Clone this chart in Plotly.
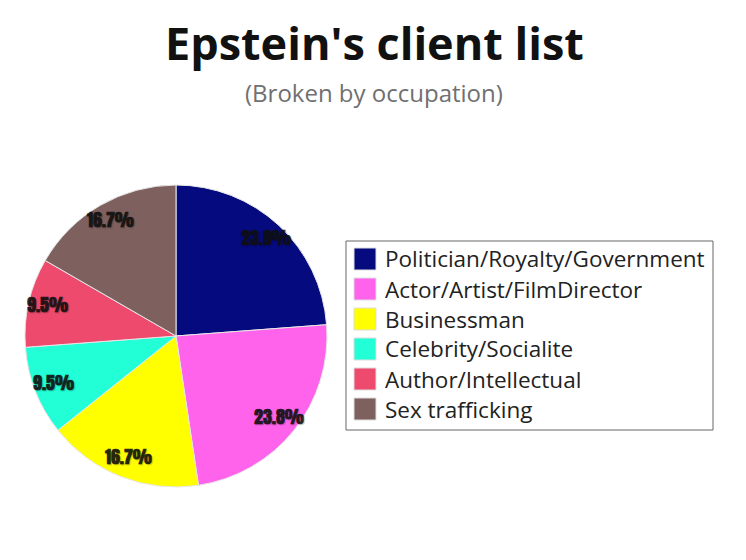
import math
import plotly.graph_objects as go

categories = ["Politician/Royalty/Government", "Actor/Artist/FilmDirector", "Businessman",
              "Celebrity/Socialite", "Author/Intellectual", "Sex trafficking"]
counts = [10, 10, 7, 4, 4, 7]
colors = ["#050a7e", "#ff63ec", "#ffff00", "#22ffd6", "#ee4a6e", "#7e615f"]

W, H = 746, 560
OFF = 8  # page body margin
CX, CY, R = 176 - OFF, 336 - OFF, 151  # pie centre / radius in px
dom = dict(x=[(CX - R) / W, (CX + R) / W], y=[1 - (CY + R) / H, 1 - (CY - R) / H])

fig = go.Figure()
fig.add_trace(go.Pie(
    labels=categories, values=counts, sort=False, direction="clockwise", rotation=0,
    marker=dict(colors=colors, line=dict(color="#e6e6e6", width=1)),
    textinfo="none", domain=dom, showlegend=False, hoverinfo="label+percent",
))

annotations = []
# percentage labels placed near the rim at each slice's mid-angle (derived from the data)
total = sum(counts)
cum = 0
for v in counts:
    mid = (cum + v / 2) / total * 2 * math.pi
    cum += v
    px = CX + 0.875 * R * math.sin(mid)
    py = CY - 0.875 * R * math.cos(mid) - 2
    annotations.append(dict(text=f"{v / total * 100:.1f}%", xref="paper", yref="paper",
                            x=px / W, y=1 - py / H, xanchor="center", yanchor="middle",
                            showarrow=False,
                            font=dict(family="Anton", size=18, color="rgba(15,15,15,0.88)",
                                      weight="bold", shadow="1px 1px 1px rgba(0,0,0,0.25)")))

# custom legend
shapes = [dict(type="rect", xref="paper", yref="paper", x0=(346 - OFF) / W, x1=(713 - OFF) / W,
               y0=1 - (430 - OFF) / H, y1=1 - (241 - OFF) / H, line=dict(color="#666666", width=1),
               fillcolor="white", layer="below")]
for i, (cat, col) in enumerate(zip(categories, colors)):
    yc = 259 + 30 * i - OFF
    shapes.append(dict(type="rect", xref="paper", yref="paper", x0=(354 - OFF) / W, x1=(376 - OFF) / W,
                       y0=1 - (yc + 11) / H, y1=1 - (yc - 11) / H, fillcolor=col,
                       line=dict(color="#dddddd", width=1)))
    annotations.append(dict(text=cat, xref="paper", yref="paper", x=(383 - OFF) / W, y=1 - yc / H,
                            xanchor="left", yanchor="middle", showarrow=False,
                            font=dict(family="Open Sans", size=22.5, color="#222222")))

annotations.append(dict(text="<b>Epstein's client list</b>", xref="paper", yref="paper",
                        x=(374 - OFF) / W, y=1 - (42 - OFF) / H, xanchor="center", yanchor="middle",
                        showarrow=False, font=dict(family="Open Sans", size=45, color="#111111")))
annotations.append(dict(text="(Broken by occupation)", xref="paper", yref="paper",
                        x=(374 - OFF) / W, y=1 - (92 - OFF) / H, xanchor="center", yanchor="middle",
                        showarrow=False, font=dict(family="Open Sans", size=24, color="#707070")))

fig.update_layout(width=W, height=H, margin=dict(l=0, r=0, t=0, b=0),
                  paper_bgcolor="white", plot_bgcolor="white",
                  shapes=shapes, annotations=annotations, showlegend=False)
fig.write_html("out.html")
